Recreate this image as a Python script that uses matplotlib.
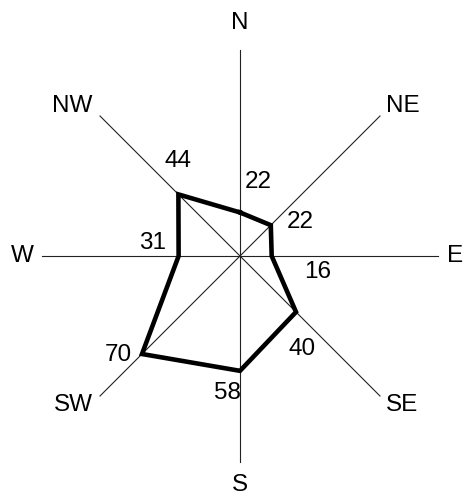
import numpy as np
import matplotlib
matplotlib.use("Agg")
import matplotlib.pyplot as plt

# wind directions and frequencies
directions = ["N", "NE", "E", "SE", "S", "SW", "W", "NW"]
values = [22, 22, 16, 40, 58, 70, 31, 44]
angles_deg = [0, 45, 90, 135, 180, 225, 270, 315]

plt.rcParams['font.family'] = ['Liberation Sans', 'DejaVu Sans']

W, H = 463, 495
fig = plt.figure(figsize=(W / 100, H / 100), dpi=100)

# place the polar axes so the centre sits at (240, 256) px
cx, cy = 240, 256
px_per_unit = 1.98
rmax = 125
rad = rmax * px_per_unit
ax = fig.add_axes([(cx - rad) / W, (H - cy - rad) / H, 2 * rad / W, 2 * rad / H],
                  projection='polar')
ax.set_theta_zero_location('N')
ax.set_theta_direction(-1)
ax.set_ylim(0, rmax)
ax.axis('off')

theta = np.deg2rad(angles_deg)

# spokes
spoke_len = [104, 100, 100, 100, 104, 100, 100, 100]
for t, L in zip(theta, spoke_len):
    ax.plot([t, t], [0, L], color='#222222', lw=0.8)

# outline
th_closed = np.append(theta, theta[0])
v_closed = np.append(values, values[0])
ax.plot(th_closed, v_closed, color='black', lw=3.3, solid_joinstyle='miter')

# direction labels (angle, radius tweaks)
lab_pos = {"N": (0, 117.7), "NE": (47.4, 111.9), "E": (90, 108.5), "SE": (132.6, 111),
           "S": (180, 115.5), "SW": (228.3, 113), "W": (270, 110), "NW": (311.8, 113.7)}
for d in directions:
    a, r = lab_pos[d]
    ax.text(np.deg2rad(a), r, d, fontsize=17.5, ha='center', va='center')

# value labels, offset from vertex in pixels
offsets = [(18, 30), (29, 3), (46, -16), (6, -37), (-13, -22), (-24, -1), (-26, 13), (0, 33)]
for t, v, off in zip(theta, values, offsets):
    ax.annotate(str(v), (t, v), xytext=off, textcoords='offset pixels',
                fontsize=17.5, ha='center', va='center')

fig.savefig("out.png", dpi=100)
